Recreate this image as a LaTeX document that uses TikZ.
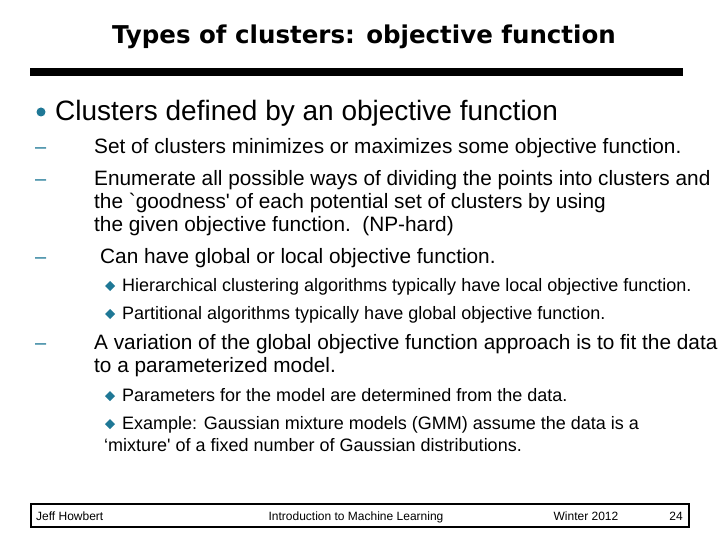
\documentclass[tikz,border=0pt]{standalone}
\usepackage{fontspec}
\setmainfont{Liberation Sans}
\newfontfamily\titlefont{DejaVu Sans}
\definecolor{teal1}{RGB}{31,120,150}
\begin{document}
\begin{tikzpicture}[x=1pt,y=-1pt,
  t/.style={anchor=base west,inner sep=0pt},
  lone/.style={t,font=\fontsize{28}{32}\selectfont},
  ltwo/.style={t,font=\fontsize{20.8}{24}\selectfont},
  lthree/.style={t,font=\fontsize{18}{22}\selectfont},
  foot/.style={anchor=base,inner sep=0pt,font=\fontsize{12}{14}\selectfont},
  dashmark/.style={t,text=teal1,font=\fontsize{20}{24}\selectfont},
  diam/.style={fill=teal1,draw=none}]
\useasboundingbox (0,0) rectangle (720,540);
\node[anchor=base,inner sep=0pt,font=\titlefont\bfseries\fontsize{24.5}{28}\selectfont] (title) at (364,44) {Types of clusters: objective function};
\fill (30,68) rectangle (683,76);
\fill[teal1] (41,112) circle (4.5);
\node[lone] (l1) at (55,121) {Clusters defined by an objective function};
\node[dashmark] (d1) at (35,154) {--};
\node[ltwo] (a1) at (94,154) {Set of clusters minimizes or maximizes some objective function.};
\node[dashmark] (d2) at (35,186) {--};
\node[ltwo] (a2) at (94,186) {Enumerate all possible ways of dividing the points into clusters and};
\node[ltwo] (a3) at (94,209) {the \textasciigrave goodness\textquotesingle{} of each potential set of clusters by using};
\node[ltwo] (a4) at (94,231) {the given objective function.\ \ (NP-hard)};
\node[dashmark] (d3) at (35,263) {--};
\node[ltwo] (a5) at (100,263) {Can have global or local objective function.};
\fill[diam] (110,281) -- (115,286) -- (110,291) -- (105,286) -- cycle;
\node[lthree] (b1) at (122,291) {Hierarchical clustering algorithms typically have local objective function.};
\fill[diam] (110,309) -- (115,314) -- (110,319) -- (105,314) -- cycle;
\node[lthree] (b2) at (122,319) {Partitional algorithms typically have global objective function.};
\node[dashmark] (d4) at (35,349) {--};
\node[ltwo] (a6) at (94,349) {A variation of the global objective function approach is to fit the data};
\node[ltwo] (a7) at (94,372) {to a parameterized model.};
\fill[diam] (110,391) -- (115,396) -- (110,401) -- (105,396) -- cycle;
\node[lthree] (b3) at (122,401) {Parameters for the model are determined from the data.};
\fill[diam] (110,419) -- (115,424) -- (110,429) -- (105,424) -- cycle;
\node[lthree] (b4) at (122,429) {Example: Gaussian mixture models (GMM) assume the data is a};
\node[lthree] (b5) at (104,451) {`mixture\textquotesingle{} of a fixed number of Gaussian distributions.};
\draw[line width=2.5] (31,504) rectangle (689,527);
\node[foot,anchor=base west] (f1) at (36,520) {Jeff Howbert};
\node[foot] (f2) at (356,520) {Introduction to Machine Learning};
\node[foot] (f3) at (586,520) {Winter 2012};
\node[foot] (f4) at (676,520) {24};
\end{tikzpicture}
\end{document}
